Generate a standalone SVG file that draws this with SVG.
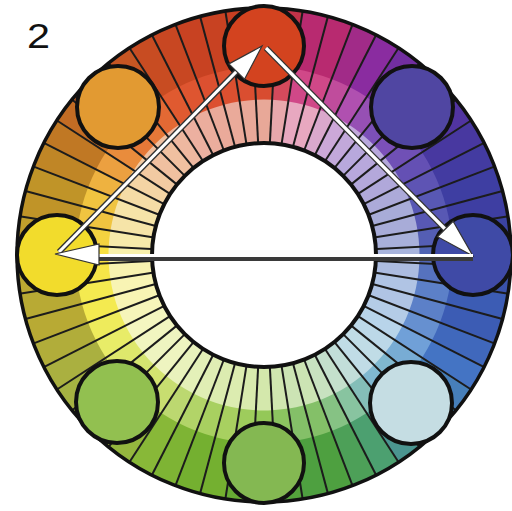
<svg xmlns="http://www.w3.org/2000/svg" width="512" height="511" viewBox="0 0 512 511">
<style>
.ln{stroke:#1c1c1c;stroke-width:2}
.node circle{stroke:#111;stroke-width:4}
.edge{stroke:#333;stroke-width:6;fill:none}
.core{stroke:#fff;stroke-width:3.2;fill:none}
.head{fill:#fff;stroke:#333;stroke-width:1.2;stroke-linejoin:miter}
.lbl{font-family:"Liberation Sans",Arial,sans-serif;font-size:35px;fill:#111}
</style>
<defs>
<circle id="o" r="217.5" fill="none" stroke-width="60" stroke-dasharray="23.3 2000"/>
<circle id="m" r="171.5" fill="none" stroke-width="34" stroke-dasharray="18.5 2000"/>
<circle id="i" r="133.5" fill="none" stroke-width="44" stroke-dasharray="14.5 2000"/>
<line id="l" x1="0" y1="-113" x2="0" y2="-246" class="ln"/>
</defs>
<rect width="512" height="511" fill="#fff"/>
<text class="lbl" x="27" y="48" textLength="23" lengthAdjust="spacingAndGlyphs">2</text>
<g id="wheel" transform="translate(264,255)">
<g transform="rotate(-93)"><use href="#o" stroke="#c83c22"/><use href="#m" stroke="#d84c30"/><use href="#i" stroke="#e8a898"/></g>
<g transform="rotate(-87)"><use href="#o" stroke="#c03349"/><use href="#m" stroke="#d44a5c"/><use href="#i" stroke="#e8a8ac"/></g>
<g transform="rotate(-81)"><use href="#o" stroke="#b82a70"/><use href="#m" stroke="#d04888"/><use href="#i" stroke="#e8a8c0"/></g>
<g transform="rotate(-75)"><use href="#o" stroke="#b82a70"/><use href="#m" stroke="#d04888"/><use href="#i" stroke="#e8a8c0"/></g>
<g transform="rotate(-69)"><use href="#o" stroke="#a12b88"/><use href="#m" stroke="#c04c9c"/><use href="#i" stroke="#daa8cc"/></g>
<g transform="rotate(-63)"><use href="#o" stroke="#8a2ca0"/><use href="#m" stroke="#b050b0"/><use href="#i" stroke="#cca8d8"/></g>
<g transform="rotate(-57)"><use href="#o" stroke="#722ea0"/><use href="#m" stroke="#9650b4"/><use href="#i" stroke="#c2a8da"/></g>
<g transform="rotate(-51)"><use href="#o" stroke="#5a30a0"/><use href="#m" stroke="#7c50b8"/><use href="#i" stroke="#b8a8dc"/></g>
<g transform="rotate(-45)"><use href="#o" stroke="#5a30a0"/><use href="#m" stroke="#7c50b8"/><use href="#i" stroke="#b8a8dc"/></g>
<g transform="rotate(-39)"><use href="#o" stroke="#5134a0"/><use href="#m" stroke="#7050b6"/><use href="#i" stroke="#b4a8db"/></g>
<g transform="rotate(-33)"><use href="#o" stroke="#4838a0"/><use href="#m" stroke="#6450b4"/><use href="#i" stroke="#b0a8da"/></g>
<g transform="rotate(-27)"><use href="#o" stroke="#433ba1"/><use href="#m" stroke="#5e54b4"/><use href="#i" stroke="#acaad9"/></g>
<g transform="rotate(-21)"><use href="#o" stroke="#3e3ea2"/><use href="#m" stroke="#5858b4"/><use href="#i" stroke="#a8acd8"/></g>
<g transform="rotate(-15)"><use href="#o" stroke="#3e3ea2"/><use href="#m" stroke="#5858b4"/><use href="#i" stroke="#a8acd8"/></g>
<g transform="rotate(-9)"><use href="#o" stroke="#3b43a1"/><use href="#m" stroke="#545eb4"/><use href="#i" stroke="#a8b0da"/></g>
<g transform="rotate(-3)"><use href="#o" stroke="#3848a0"/><use href="#m" stroke="#5064b4"/><use href="#i" stroke="#a8b4dc"/></g>
<g transform="rotate(3)"><use href="#o" stroke="#3a52aa"/><use href="#m" stroke="#5672be"/><use href="#i" stroke="#acbce0"/></g>
<g transform="rotate(9)"><use href="#o" stroke="#3c5cb4"/><use href="#m" stroke="#5c80c8"/><use href="#i" stroke="#b0c4e4"/></g>
<g transform="rotate(15)"><use href="#o" stroke="#3c5cb4"/><use href="#m" stroke="#5c80c8"/><use href="#i" stroke="#b0c4e4"/></g>
<g transform="rotate(21)"><use href="#o" stroke="#4068bc"/><use href="#m" stroke="#6690d0"/><use href="#i" stroke="#b4cce7"/></g>
<g transform="rotate(27)"><use href="#o" stroke="#4474c4"/><use href="#m" stroke="#70a0d8"/><use href="#i" stroke="#b8d4ea"/></g>
<g transform="rotate(33)"><use href="#o" stroke="#477fba"/><use href="#m" stroke="#78acd4"/><use href="#i" stroke="#bcd8e8"/></g>
<g transform="rotate(39)"><use href="#o" stroke="#4a8ab0"/><use href="#m" stroke="#80b8d0"/><use href="#i" stroke="#c0dce6"/></g>
<g transform="rotate(45)"><use href="#o" stroke="#4a8ab0"/><use href="#m" stroke="#80b8d0"/><use href="#i" stroke="#c0dce6"/></g>
<g transform="rotate(51)"><use href="#o" stroke="#4b9590"/><use href="#m" stroke="#84beb8"/><use href="#i" stroke="#c2ded9"/></g>
<g transform="rotate(57)"><use href="#o" stroke="#4ca070"/><use href="#m" stroke="#88c4a0"/><use href="#i" stroke="#c4e0cc"/></g>
<g transform="rotate(63)"><use href="#o" stroke="#4da058"/><use href="#m" stroke="#86c284"/><use href="#i" stroke="#c8e2c0"/></g>
<g transform="rotate(69)"><use href="#o" stroke="#4ea040"/><use href="#m" stroke="#84c068"/><use href="#i" stroke="#cce4b4"/></g>
<g transform="rotate(75)"><use href="#o" stroke="#4ea040"/><use href="#m" stroke="#84c068"/><use href="#i" stroke="#cce4b4"/></g>
<g transform="rotate(81)"><use href="#o" stroke="#54a43c"/><use href="#m" stroke="#8cc460"/><use href="#i" stroke="#d0e6b0"/></g>
<g transform="rotate(87)"><use href="#o" stroke="#5aa838"/><use href="#m" stroke="#94c858"/><use href="#i" stroke="#d4e8ac"/></g>
<g transform="rotate(93)"><use href="#o" stroke="#67ac34"/><use href="#m" stroke="#9ecc5c"/><use href="#i" stroke="#d8eaae"/></g>
<g transform="rotate(99)"><use href="#o" stroke="#74b030"/><use href="#m" stroke="#a8d060"/><use href="#i" stroke="#dcecb0"/></g>
<g transform="rotate(105)"><use href="#o" stroke="#74b030"/><use href="#m" stroke="#a8d060"/><use href="#i" stroke="#dcecb0"/></g>
<g transform="rotate(111)"><use href="#o" stroke="#7eb434"/><use href="#m" stroke="#b2d468"/><use href="#i" stroke="#e0eeb4"/></g>
<g transform="rotate(117)"><use href="#o" stroke="#88b838"/><use href="#m" stroke="#bcd870"/><use href="#i" stroke="#e4f0b8"/></g>
<g transform="rotate(123)"><use href="#o" stroke="#94b63e"/><use href="#m" stroke="#c8de70"/><use href="#i" stroke="#e9f2bc"/></g>
<g transform="rotate(129)"><use href="#o" stroke="#a0b444"/><use href="#m" stroke="#d4e470"/><use href="#i" stroke="#eef4c0"/></g>
<g transform="rotate(135)"><use href="#o" stroke="#a0b444"/><use href="#m" stroke="#d4e470"/><use href="#i" stroke="#eef4c0"/></g>
<g transform="rotate(141)"><use href="#o" stroke="#a5b242"/><use href="#m" stroke="#dee86c"/><use href="#i" stroke="#f1f5c0"/></g>
<g transform="rotate(147)"><use href="#o" stroke="#aab040"/><use href="#m" stroke="#e8ec68"/><use href="#i" stroke="#f4f6c0"/></g>
<g transform="rotate(153)"><use href="#o" stroke="#b1ad3a"/><use href="#m" stroke="#eeeb5c"/><use href="#i" stroke="#f6f5ba"/></g>
<g transform="rotate(159)"><use href="#o" stroke="#b8aa34"/><use href="#m" stroke="#f4ea50"/><use href="#i" stroke="#f8f4b4"/></g>
<g transform="rotate(165)"><use href="#o" stroke="#b8aa34"/><use href="#m" stroke="#f4ea50"/><use href="#i" stroke="#f8f4b4"/></g>
<g transform="rotate(171)"><use href="#o" stroke="#bca932"/><use href="#m" stroke="#f6e548"/><use href="#i" stroke="#f8f2b0"/></g>
<g transform="rotate(177)"><use href="#o" stroke="#c0a830"/><use href="#m" stroke="#f8e040"/><use href="#i" stroke="#f8f0ac"/></g>
<g transform="rotate(183)"><use href="#o" stroke="#c09e2c"/><use href="#m" stroke="#f4d240"/><use href="#i" stroke="#f7eaaa"/></g>
<g transform="rotate(189)"><use href="#o" stroke="#c09428"/><use href="#m" stroke="#f0c440"/><use href="#i" stroke="#f6e4a8"/></g>
<g transform="rotate(195)"><use href="#o" stroke="#c09428"/><use href="#m" stroke="#f0c440"/><use href="#i" stroke="#f6e4a8"/></g>
<g transform="rotate(201)"><use href="#o" stroke="#c08626"/><use href="#m" stroke="#eeb240"/><use href="#i" stroke="#f5dca6"/></g>
<g transform="rotate(207)"><use href="#o" stroke="#c07824"/><use href="#m" stroke="#eca040"/><use href="#i" stroke="#f4d4a4"/></g>
<g transform="rotate(213)"><use href="#o" stroke="#c26c24"/><use href="#m" stroke="#e98c3c"/><use href="#i" stroke="#f2caa2"/></g>
<g transform="rotate(219)"><use href="#o" stroke="#c46024"/><use href="#m" stroke="#e67838"/><use href="#i" stroke="#f0c0a0"/></g>
<g transform="rotate(225)"><use href="#o" stroke="#c46024"/><use href="#m" stroke="#e67838"/><use href="#i" stroke="#f0c0a0"/></g>
<g transform="rotate(231)"><use href="#o" stroke="#c65623"/><use href="#m" stroke="#e36934"/><use href="#i" stroke="#eeb8a0"/></g>
<g transform="rotate(237)"><use href="#o" stroke="#c84c22"/><use href="#m" stroke="#e05a30"/><use href="#i" stroke="#ecb0a0"/></g>
<g transform="rotate(243)"><use href="#o" stroke="#c84722"/><use href="#m" stroke="#de5530"/><use href="#i" stroke="#ebad9d"/></g>
<g transform="rotate(249)"><use href="#o" stroke="#c84222"/><use href="#m" stroke="#dc5030"/><use href="#i" stroke="#eaaa9a"/></g>
<g transform="rotate(255)"><use href="#o" stroke="#c84222"/><use href="#m" stroke="#dc5030"/><use href="#i" stroke="#eaaa9a"/></g>
<g transform="rotate(261)"><use href="#o" stroke="#c83f22"/><use href="#m" stroke="#da4e30"/><use href="#i" stroke="#e9a999"/></g>
<g id="spokes">
<use href="#l" transform="rotate(-3)"/><use href="#l" transform="rotate(3)"/><use href="#l" transform="rotate(9)"/><use href="#l" transform="rotate(15)"/><use href="#l" transform="rotate(21)"/><use href="#l" transform="rotate(27)"/><use href="#l" transform="rotate(33)"/><use href="#l" transform="rotate(39)"/><use href="#l" transform="rotate(45)"/><use href="#l" transform="rotate(51)"/>
<use href="#l" transform="rotate(57)"/><use href="#l" transform="rotate(63)"/><use href="#l" transform="rotate(69)"/><use href="#l" transform="rotate(75)"/><use href="#l" transform="rotate(81)"/><use href="#l" transform="rotate(87)"/><use href="#l" transform="rotate(93)"/><use href="#l" transform="rotate(99)"/><use href="#l" transform="rotate(105)"/><use href="#l" transform="rotate(111)"/>
<use href="#l" transform="rotate(117)"/><use href="#l" transform="rotate(123)"/><use href="#l" transform="rotate(129)"/><use href="#l" transform="rotate(135)"/><use href="#l" transform="rotate(141)"/><use href="#l" transform="rotate(147)"/><use href="#l" transform="rotate(153)"/><use href="#l" transform="rotate(159)"/><use href="#l" transform="rotate(165)"/><use href="#l" transform="rotate(171)"/>
<use href="#l" transform="rotate(177)"/><use href="#l" transform="rotate(183)"/><use href="#l" transform="rotate(189)"/><use href="#l" transform="rotate(195)"/><use href="#l" transform="rotate(201)"/><use href="#l" transform="rotate(207)"/><use href="#l" transform="rotate(213)"/><use href="#l" transform="rotate(219)"/><use href="#l" transform="rotate(225)"/><use href="#l" transform="rotate(231)"/>
<use href="#l" transform="rotate(237)"/><use href="#l" transform="rotate(243)"/><use href="#l" transform="rotate(249)"/><use href="#l" transform="rotate(255)"/><use href="#l" transform="rotate(261)"/><use href="#l" transform="rotate(267)"/><use href="#l" transform="rotate(273)"/><use href="#l" transform="rotate(279)"/><use href="#l" transform="rotate(285)"/><use href="#l" transform="rotate(291)"/>
<use href="#l" transform="rotate(297)"/><use href="#l" transform="rotate(303)"/><use href="#l" transform="rotate(309)"/><use href="#l" transform="rotate(315)"/><use href="#l" transform="rotate(321)"/><use href="#l" transform="rotate(327)"/><use href="#l" transform="rotate(333)"/><use href="#l" transform="rotate(339)"/><use href="#l" transform="rotate(345)"/><use href="#l" transform="rotate(351)"/>
</g>
<circle r="247" fill="none" stroke="#111" stroke-width="3.5"/>
<circle r="112" fill="#fff" stroke="#111" stroke-width="4"/>
</g>
<g id="n-red" class="node"><circle cx="264" cy="46" r="40" fill="#d3431f"/></g>
<g id="n-violet" class="node"><circle cx="412" cy="107" r="41" fill="#5046a2"/></g>
<g id="n-blue" class="node"><circle cx="473" cy="255" r="40" fill="#3f4aa6"/></g>
<g id="n-lightblue" class="node"><circle cx="411" cy="403" r="41" fill="#c5dde3"/></g>
<g id="n-green" class="node"><circle cx="264" cy="463" r="40" fill="#84b852"/></g>
<g id="n-yellowgreen" class="node"><circle cx="117" cy="402" r="41" fill="#92c050"/></g>
<g id="n-yellow" class="node"><circle cx="57" cy="255" r="40" fill="#f2dc2c"/></g>
<g id="n-orange" class="node"><circle cx="118" cy="107" r="41" fill="#e29a32"/></g>
<g id="connectors">
<line class="edge" x1="59" y1="252" x2="238" y2="70"/>
<line class="core" x1="59" y1="252" x2="238" y2="70"/>
<polygon class="head" points="262,46 244.5,79.3 228.9,63.9"/>
<line class="edge" x1="266" y1="48" x2="447" y2="231"/>
<line class="core" x1="266" y1="48" x2="447" y2="231"/>
<polygon class="head" points="473,256 437.5,236.7 453.1,221.3"/>
<line x1="97" y1="258.5" x2="473" y2="258.5" stroke="#3a3a3a" stroke-width="5"/>
<line x1="97" y1="255.5" x2="473" y2="255.5" stroke="#fff" stroke-width="3"/>
<polygon class="head" points="55,254 99,244 99,265"/>
</g>
</svg>
